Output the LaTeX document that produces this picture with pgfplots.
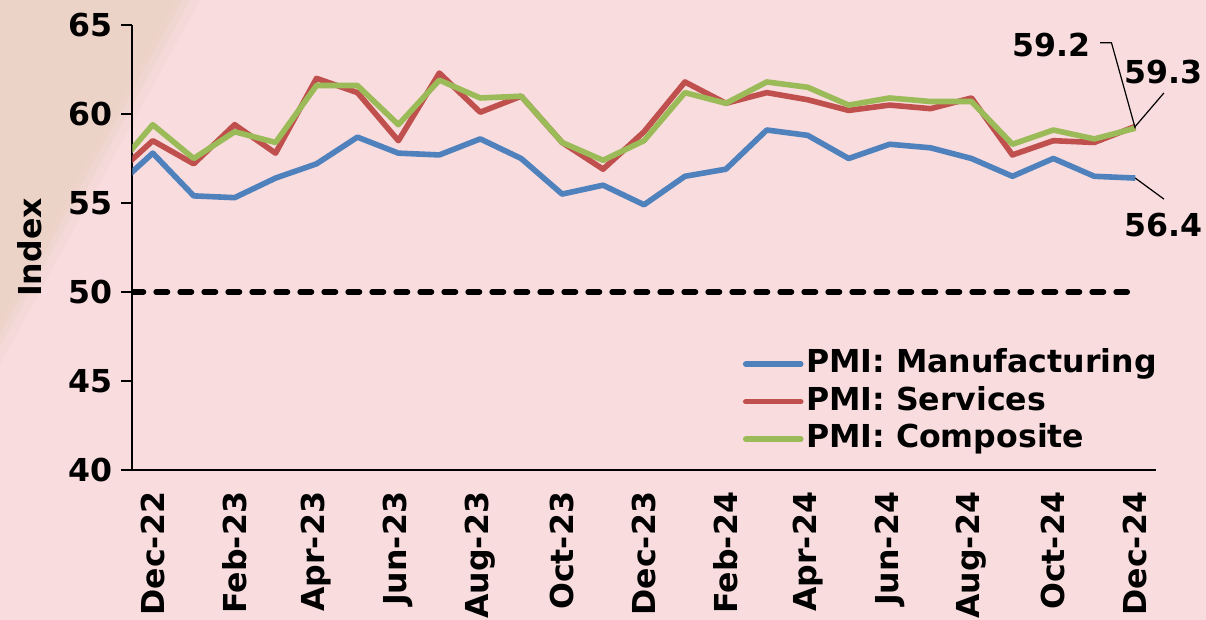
\documentclass[border=0pt]{standalone}
\usepackage{fontspec}
\setmainfont{DejaVu Sans}
\usepackage{pgfplots}
\usepackage{pgfplotstable}
\pgfplotsset{compat=1.18}
\definecolor{bgpink}{RGB}{248,220,222}
\definecolor{beige}{RGB}{236,211,200}
\definecolor{mblue}{RGB}{79,129,189}
\definecolor{mred}{RGB}{192,80,77}
\definecolor{mgreen}{RGB}{155,187,89}
\newcommand\lf{\fontsize{15.8}{19}\selectfont\bfseries}

% x: months after Dec-22 (points plotted mid-month); first row is Nov-22 (clipped)
\pgfplotstableread{
x    manu  serv  comp
-0.5 55.7  56.4  56.7
0.5  57.8  58.5  59.4
1.5  55.4  57.2  57.5
2.5  55.3  59.4  59.0
3.5  56.4  57.8  58.4
4.5  57.2  62.0  61.6
5.5  58.7  61.2  61.6
6.5  57.8  58.5  59.4
7.5  57.7  62.3  61.9
8.5  58.6  60.1  60.9
9.5  57.5  61.0  61.0
10.5 55.5  58.4  58.4
11.5 56.0  56.9  57.4
12.5 54.9  59.0  58.5
13.5 56.5  61.8  61.2
14.5 56.9  60.6  60.6
15.5 59.1  61.2  61.8
16.5 58.8  60.8  61.5
17.5 57.5  60.2  60.5
18.5 58.3  60.5  60.9
19.5 58.1  60.3  60.7
20.5 57.5  60.9  60.7
21.5 56.5  57.7  58.3
22.5 57.5  58.5  59.1
23.5 56.5  58.4  58.6
24.5 56.4  59.3  59.2
}\pmi

\begin{document}
\lf
\begin{tikzpicture}
\useasboundingbox (0,0) rectangle (603pt,310pt);
\fill[bgpink] (0,0) rectangle (603pt,310pt);
\fill[beige, opacity=0.25] (0pt,310pt) -- (100pt,310pt) -- (0pt,128pt) -- cycle;
\fill[beige, opacity=0.45] (0pt,310pt) -- (95pt,310pt) -- (0pt,137pt) -- cycle;
\fill[beige, opacity=0.7] (0pt,310pt) -- (91pt,310pt) -- (0pt,143pt) -- cycle;
\fill[beige] (0pt,310pt) -- (87pt,310pt) -- (0pt,150pt) -- cycle;
\begin{axis}[
  at={(66.15pt,75pt)}, anchor=south west,
  scale only axis, width=511.7pt, height=222.5pt,
  xmin=0, xmax=25, ymin=40, ymax=65,
  axis x line*=bottom, axis y line*=left,
  axis line style={line width=1pt, black, -},
  tick align=outside,
  major tick length=5.5pt,
  tick style={line width=1pt, black},
  ytick={40,45,...,65},
  xtick={0.5,2.5,...,24.5},
  xticklabels={Dec-22,Feb-23,Apr-23,Jun-23,Aug-23,Oct-23,Dec-23,Feb-24,Apr-24,Jun-24,Aug-24,Oct-24,Dec-24},
  x tick style={draw=none},
  extra x ticks={0,2,...,24},
  extra x tick labels={},
  extra x tick style={tick style={draw=black, line width=1pt}},
  xticklabel style={rotate=90, anchor=east, font=\lf},
  yticklabel style={font=\lf, xshift=1pt},
  /pgf/number format/assume math mode=true,
  ylabel={Index},
  every axis y label/.style={at={(axis description cs:-0.1,0.5)}, rotate=90, anchor=center, font=\lf},
  legend style={draw=none, fill=none, font=\lf, at={(axis description cs:0.5967,0.276)}, anchor=north west,
    inner sep=0pt, outer sep=0pt, row sep=1.75pt,
    nodes={inner sep=1.25pt, text height=11.5pt, text depth=3pt}},
  legend cell align=left,
  legend image code/.code={\draw[#1, line width=2.8pt, line cap=round] (0pt,0pt) -- (27.5pt,0pt);},
]
\addplot[black, line width=3pt, dash pattern=on 5.5pt off 6.5pt, line cap=round, forget plot] coordinates {(0,50) (24.3,50)};
\addplot[mblue, line width=2.8pt, line join=round] table[x=x, y=manu] {\pmi};
\addlegendentry{PMI: Manufacturing}
\addplot[mred, line width=2.8pt, line join=round] table[x=x, y=serv] {\pmi};
\addlegendentry{PMI: Services}
\addplot[mgreen, line width=2.8pt, line join=round] table[x=x, y=comp] {\pmi};
\addlegendentry{PMI: Composite}
\coordinate (pS) at (axis cs:24.5,59.3);
\coordinate (pC) at (axis cs:24.5,59.2);
\coordinate (pM) at (axis cs:24.5,56.4);
\coordinate (lC) at (axis cs:22.46,63.88);
\coordinate (lS) at (axis cs:25.2,62.36);
\coordinate (lM) at (axis cs:25.2,53.76);
\coordinate (aC1) at (axis cs:23.64,64.0);
\coordinate (aC2) at (axis cs:23.92,64.0);
\coordinate (aS) at (axis cs:25.2,61.18);
\coordinate (aM) at (axis cs:25.2,55.22);
\end{axis}
\draw[line width=0.6pt] (aC1) -- (aC2) -- (pC);
\draw[line width=0.6pt] (aS) -- (pS);
\draw[line width=0.6pt] (aM) -- (pM);
\node[font=\lf] at (lC) {59.2};
\node[font=\lf] at (lS) {59.3};
\node[font=\lf] at (lM) {56.4};
\end{tikzpicture}
\end{document}
